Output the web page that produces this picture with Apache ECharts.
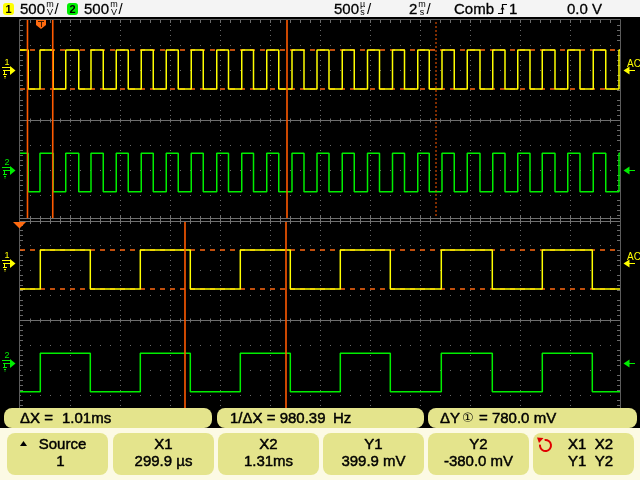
<!DOCTYPE html>
<html>
<head>
<meta charset="utf-8">
<title>CH1 / CH2 cursor measurement</title>
<script src="https://cdn.jsdelivr.net/npm/echarts/dist/echarts.min.js"></script>
<style>
  html, body { margin: 0; padding: 0; background: #000; }
  #scope { width: 640px; height: 480px; }
</style>
</head>
<body>
<div id="scope"></div>
<script>
// ---------------------------------------------------------------------------
// Acquisition
// Main window, 2 ms/div: time in ms from the left edge of the graticule
const mainSpan  = [0, 24];
const mainFalls = [0.33, 1.33, 2.35, 3.33, 4.33, 5.33, 6.33, 7.33, 8.34, 9.34, 10.35, 11.36,
                   12.36, 13.37, 14.38, 15.38, 16.37, 17.37, 18.40, 19.40, 20.40, 21.40, 22.40, 23.43];
const mainRises = [0.80, 1.83, 2.84, 3.85, 4.85, 5.85, 6.85, 7.87, 8.87, 9.87, 10.88, 11.88,
                   12.89, 13.90, 14.90, 15.91, 16.88, 17.89, 18.91, 19.91, 20.89, 21.91, 22.93, 23.96];

// Zoom window, 500 µs/div: time in ms on the cursor time base
const zoomSpan  = [-1.35, 4.65];
const zoomRises = [-1.147, -0.147, 0.853, 1.853, 2.863, 3.873];
const zoomFalls = [-0.647, 0.353, 1.353, 2.353, 3.373, 4.373];

// Zoomed region, marked in the main window (ms)
const zoomMarks = [10.68, 16.64];

// Logic levels (V)
const ch1High = 0.3999, ch1Low = -0.380;
const ch2High = 0.334,  ch2Low = -0.434;

// Vertical setup: volts per division and ground position (divisions above centre)
const voltsPerDiv = [0.5, 0.5];
const groundDiv   = [2, -2];

// Cursors
const cursorX = [0.2999, 1.31];     // ms
const cursorY = [0.3999, -0.380];   // V on channel 1

// Readouts
const headerScale = ['500', '500'];
const headerTime  = ['500', '2'];
const headerTrig  = ['Comb', '1', '0.0 V'];
const readouts    = ['ΔX =', '1.01ms', '1/ΔX = 980.39', 'Hz', 'ΔY', '①', '= 780.0 mV'];
const softkeys    = [['Source', '1'], ['X1', '299.9 µs'], ['X2', '1.31ms'],
                     ['Y1', '399.9 mV'], ['Y2', '-380.0 mV'], ['X1  X2', 'Y1  Y2']];

// ---------------------------------------------------------------------------
const YELLOW = '#ffff00';
const GREEN  = '#00ee00';
const ORANGE = '#ff6a10';
const CURSOR = '#ff5a00';
const GRID   = '#6a6a6a';
const FONT   = '"Liberation Sans", Arial, "DejaVu Sans", sans-serif';

const L = 20, R = 620, W = 600;
const MAIN_TOP = 20, ZOOM_TOP = 220, WIN_H = 200;

// Square wave polyline from edge lists
function squareTrace(rises, falls, hi, lo, span) {
  const edges = rises.map(t => [t, 1]).concat(falls.map(t => [t, 0]))
                     .sort((a, b) => a[0] - b[0]);
  let state = edges.length && edges[0][1] === 0 ? 1 : 0;
  const pts = [[span[0], state ? hi : lo]];
  edges.forEach(([t, s]) => {
    pts.push([t, state ? hi : lo]);
    state = s;
    pts.push([t, state ? hi : lo]);
  });
  pts.push([span[1], state ? hi : lo]);
  return pts;
}

const chMin = ch => (-4 - groundDiv[ch]) * voltsPerDiv[ch];
const chMax = ch => ( 4 - groundDiv[ch]) * voltsPerDiv[ch];

function chAxis(gridIndex, ch) {
  return { type: 'value', gridIndex, show: false, min: chMin(ch), max: chMax(ch) };
}
function divXAxis(gridIndex) {
  return {
    type: 'value', gridIndex, min: 0, max: 12, interval: 1,
    axisLine: { show: false }, axisTick: { show: false }, axisLabel: { show: false },
    splitLine: { show: true, lineStyle: { color: GRID, width: 1, type: [1, 4] } }
  };
}
function divYAxis(gridIndex) {
  return {
    type: 'value', gridIndex, min: -4, max: 4, interval: 1,
    axisLine: { show: false }, axisTick: { show: false }, axisLabel: { show: false },
    splitLine: { show: true, lineStyle: { color: GRID, width: 1, type: [1, 9] } }
  };
}

function trace(name, xi, yi, data, color) {
  return {
    name, type: 'line', xAxisIndex: xi, yAxisIndex: yi, data,
    showSymbol: false, symbol: 'none', z: 3, silent: true, animation: false,
    lineStyle: { color, width: 1.5 }
  };
}

// Horizontal Y cursors (dashed, beneath the traces)
function yCursors(xi, yi, span) {
  const ls = { color: ORANGE, width: 1.5, type: [5, 5], opacity: 1 };
  return {
    type: 'line', xAxisIndex: xi, yAxisIndex: yi, symbol: 'none', silent: true,
    animation: false, data: [[span[0], 0]], lineStyle: { width: 0 },
    markLine: {
      silent: true, z: 2, symbol: ['none', 'none'], animation: false, label: { show: false },
      lineStyle: ls, data: cursorY.map(v => ({ yAxis: v, lineStyle: ls }))
    }
  };
}
// Vertical time marker spanning the full window height (channel 1 scale)
function timeMarker(xi, yi, t, dotted) {
  return {
    type: 'line', xAxisIndex: xi, yAxisIndex: yi, symbol: 'none', silent: true,
    animation: false, z: 5,
    data: [[t, chMin(0)], [t, chMax(0)]],
    lineStyle: { color: CURSOR, width: dotted ? 1 : 1.6, type: dotted ? [2, 2] : 'solid' }
  };
}

// ---------------------------------------------------------------------------
// Graticule decoration and screen furniture
const deco = [];
function seg(x1, y1, x2, y2, color, w, z) {
  deco.push({ type: 'line', silent: true, z: z || 1,
    shape: { x1, y1, x2, y2 }, style: { stroke: color, lineWidth: w || 1 } });
}
function box(x, y, w, h, r, fill, z) {
  deco.push({ type: 'rect', silent: true, z: z || 100,
    shape: { x, y, width: w, height: h, r }, style: { fill } });
}
function txt(text, x, y, opts) {
  const o = opts || {};
  const color = o.color || '#000';
  const style = { text, x, y, fill: color,
      fontSize: o.size || 15, fontFamily: FONT, fontWeight: o.weight || 'normal',
      align: o.align || 'left', verticalAlign: 'middle',
      textAlign: o.align || 'left', textVerticalAlign: 'middle' };
  if (o.heavy) { style.stroke = color; style.lineWidth = o.heavy; }
  deco.push({ type: 'text', silent: true, z: o.z || 101, style });
}
function poly(points, fill, z) {
  deco.push({ type: 'polygon', silent: true, z: z || 100,
    shape: { points }, style: { fill } });
}
function pline(points, stroke, w, z) {
  deco.push({ type: 'polyline', silent: true, z: z || 100,
    shape: { points }, style: { stroke, lineWidth: w || 1, fill: null } });
}

// outer frame with minor ticks
seg(L - 0.5, MAIN_TOP - 0.5, R + 0.5, MAIN_TOP - 0.5, '#5c5c5c');
seg(L - 0.5, MAIN_TOP - 0.5, L - 0.5, 410, '#5c5c5c');
seg(R + 0.5, MAIN_TOP - 0.5, R + 0.5, 410, '#5c5c5c');
for (let y = MAIN_TOP + 5; y < 408; y += 5) {
  if (y % 25 === 20) continue;
  seg(L, y + 0.5, L + 3, y + 0.5, GRID);
  seg(R - 3, y + 0.5, R, y + 0.5, GRID);
}
for (let x = L + 10; x < R; x += 10) {
  seg(x + 0.5, MAIN_TOP, x + 0.5, MAIN_TOP + 3, GRID);
}
// centre lines of both windows
[MAIN_TOP + WIN_H / 2, ZOOM_TOP + WIN_H / 2].forEach(yc => {
  seg(L, yc + 0.5, R, yc + 0.5, '#6e6e6e');
  for (let x = L + 10; x < R; x += 10) seg(x + 0.5, yc - 1.5, x + 0.5, yc + 2.5, '#6e6e6e');
});
// separator between main and zoom windows
box(L, 218, W, 4, 0, '#000', 6);
seg(L, 218.5, R, 218.5, '#707070', 1, 7);
seg(L, 221.5, R, 221.5, '#707070', 1, 7);
for (let x = L + 10; x < R; x += 10) seg(x + 0.5, 216, x + 0.5, 224, '#707070', 1, 7);

// channel ground markers, left side
function groundMarker(label, y, color) {
  txt(label, 7, y - 7, { color, size: 9, z: 100, align: 'center' });
  seg(2, y - 2.5, 10, y - 2.5, color, 1, 100);
  seg(3, y + 0.5, 11, y + 0.5, color, 1, 100);
  poly([[10, y - 4], [15.5, y + 0.5], [10, y + 5]], color);
  seg(4.5, y + 1, 4.5, y + 4, color, 1, 100);
  seg(3, y + 4.5, 7, y + 4.5, color, 1, 100);
  seg(4, y + 6.5, 6, y + 6.5, color, 1, 100);
  seg(4.5, y + 8, 5.5, y + 8, color, 1, 100);
}
groundMarker('1', 70, YELLOW);
groundMarker('2', 170, GREEN);
groundMarker('1', 263, YELLOW);
groundMarker('2', 363, GREEN);

// trigger level markers, right side
function levelMarker(y, color, coupling) {
  poly([[623.5, y + 0.5], [629.5, y - 3.5], [629.5, y + 4.5]], color);
  seg(629, y + 0.5, 635, y + 0.5, color, 1, 100);
  if (coupling) txt(coupling, 627, y - 6, { color, size: 10, z: 100 });
}
levelMarker(70, YELLOW, 'AC');
levelMarker(170, GREEN);
levelMarker(263, YELLOW, 'AC');
levelMarker(363, GREEN);

// trigger position markers
poly([[36, 20], [46, 20], [46, 25], [41, 29], [36, 25]], ORANGE);
seg(38, 21.5, 44, 21.5, '#3a1a00', 1, 101);
seg(41.5, 21.5, 41.5, 27, '#3a1a00', 1, 101);
poly([[13, 222], [26, 222], [19.5, 228.5]], ORANGE);

// header bar
box(0, 0, 640, 17, 0, '#f4f4f4');
function badge(x, label, color) {
  box(x, 3, 11, 12, 3, color);
  txt(label, x + 5.5, 9.5, { size: 11, weight: 'bold', align: 'center' });
}
function unitStack(x, top, bottom) {
  txt(top, x, 5, { size: 9, align: 'center' });
  txt(bottom, x, 12.5, { size: 9, align: 'center' });
  txt('/', x + 4.5, 9.5, { size: 15 });
}
const HEAD = { size: 15, heavy: 0.3 };
badge(3, '1', YELLOW);
txt(headerScale[0], 20, 9.5, HEAD);
unitStack(50, 'm', 'V');
badge(67, '2', GREEN);
txt(headerScale[1], 84, 9.5, HEAD);
unitStack(114, 'm', 'V');
txt(headerTime[0], 334, 9.5, HEAD);
unitStack(362.5, 'µ', 's');
txt(headerTime[1], 409, 9.5, HEAD);
unitStack(422, 'm', 's');
txt(headerTrig[0], 454, 9.5, HEAD);
pline([[498, 13.5], [502.5, 13.5], [502.5, 4.5], [507, 4.5]], '#000', 1.2);
poly([[500.5, 9.5], [504.5, 9.5], [502.5, 6.5]], '#000', 101);
txt(headerTrig[1], 509, 9.5, HEAD);
txt(headerTrig[2], 567, 9.5, HEAD);

// measurement readouts
const PILL = '#e4e48c';
const PANEL = { heavy: 0.45 };
box(0, 428, 640, 52, 0, '#fcfae4', 99);
box(4, 408, 208, 20, 8, PILL);
box(217, 408, 207, 20, 8, PILL);
box(428, 408, 209, 20, 8, PILL);
txt(readouts[0], 20, 418.5, PANEL);
txt(readouts[1], 62, 418.5, PANEL);
txt(readouts[2], 230, 418.5, PANEL);
txt(readouts[3], 333, 418.5, PANEL);
txt(readouts[4], 440, 418.5, PANEL);
txt(readouts[5], 462, 418.5, { size: 13 });
txt(readouts[6], 479, 418.5, PANEL);

// softkeys
const keyX = [7, 113, 218, 323, 428, 533];
keyX.forEach(x => box(x, 433, 101, 42, 8, PILL));
softkeys.forEach((k, i) => {
  const cx = keyX[i] + 50.5 + (i === 0 ? 5 : 0) + (i === 5 ? 7 : 0);
  txt(k[0], cx, 444.5, { align: 'center', heavy: 0.45 });
  txt(k[1], cx - (i === 0 ? 2 : 0), 461.5, { align: 'center', heavy: 0.45 });
});
poly([[20, 446], [27, 446], [23.5, 441]], '#000', 101);
deco.push({ type: 'arc', silent: true, z: 101,
  shape: { cx: 545.5, cy: 445.5, r: 5.5, startAngle: -Math.PI * 0.55, endAngle: Math.PI * 1.05, clockwise: true },
  style: { stroke: '#e00000', lineWidth: 2, fill: null } });
poly([[537, 437.5], [543.5, 438], [539, 443]], '#e00000', 101);

// ---------------------------------------------------------------------------
const chart = echarts.init(document.getElementById('scope'), null, { renderer: 'canvas' });
chart.setOption({
  backgroundColor: '#000',
  animation: false,
  grid: [
    { left: L, top: MAIN_TOP, width: W, height: WIN_H },
    { left: L, top: ZOOM_TOP, width: W, height: WIN_H }
  ],
  xAxis: [
    divXAxis(0),
    { type: 'value', gridIndex: 0, show: false, min: mainSpan[0], max: mainSpan[1] },
    divXAxis(1),
    { type: 'value', gridIndex: 1, show: false, min: zoomSpan[0], max: zoomSpan[1] }
  ],
  yAxis: [
    divYAxis(0), chAxis(0, 0), chAxis(0, 1),
    divYAxis(1), chAxis(1, 0), chAxis(1, 1)
  ],
  series: [
    yCursors(1, 1, mainSpan),
    yCursors(3, 4, zoomSpan),
    trace('CH1 main', 1, 1, squareTrace(mainRises, mainFalls, ch1High, ch1Low, mainSpan), YELLOW),
    trace('CH2 main', 1, 2, squareTrace(mainRises, mainFalls, ch2High, ch2Low, mainSpan), GREEN),
    trace('CH1 zoom', 3, 4, squareTrace(zoomRises, zoomFalls, ch1High, ch1Low, zoomSpan), YELLOW),
    trace('CH2 zoom', 3, 5, squareTrace(zoomRises, zoomFalls, ch2High, ch2Low, zoomSpan), GREEN),
    timeMarker(1, 1, cursorX[0]),
    timeMarker(1, 1, cursorX[1]),
    timeMarker(1, 1, zoomMarks[0]),
    timeMarker(1, 1, zoomMarks[1], true),
    timeMarker(3, 4, cursorX[0]),
    timeMarker(3, 4, cursorX[1])
  ],
  graphic: { elements: deco }
});
</script>
</body>
</html>
